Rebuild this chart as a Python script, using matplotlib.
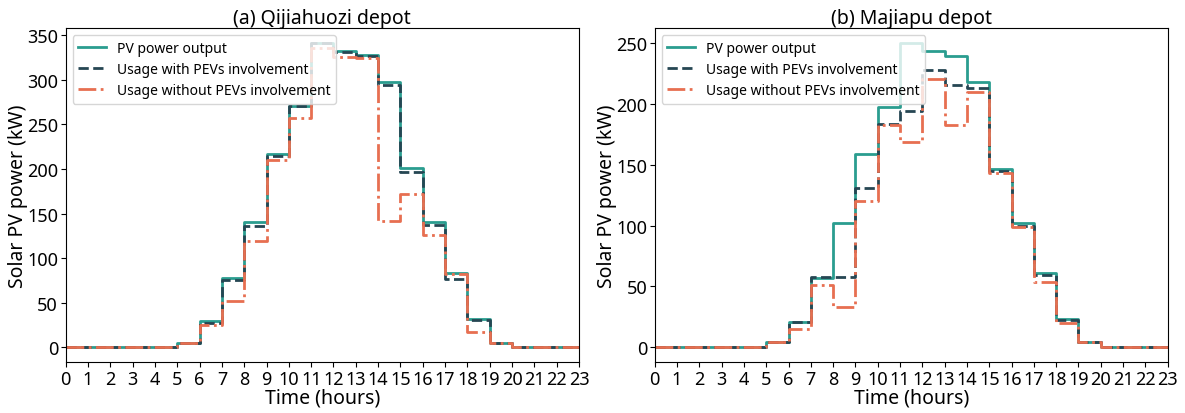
import matplotlib
matplotlib.use("Agg")
import matplotlib.pyplot as plt

plt.rcParams['font.family'] = ['Noto Sans', 'DejaVu Sans']

hours = list(range(24))

# Qijiahuozi depot (kW)
pv_a = [0, 0, 0, 0, 0, 5, 29, 78, 140, 217, 271, 341, 333, 328, 298, 201, 140, 83, 32, 5, 0, 0, 0, 0]
with_a = [0, 0, 0, 0, 0, 5, 27, 75, 136, 215, 271, 341, 331, 327, 294, 197, 137, 77, 30, 5, 0, 0, 0, 0]
without_a = [0, 0, 0, 0, 0, 5, 25, 52, 119, 210, 257, 336, 326, 325, 142, 172, 126, 82, 17, 5, 0, 0, 0, 0]

# Majiapu depot (kW)
pv_b = [0, 0, 0, 0, 0, 4, 21, 57, 102, 159, 198, 250, 244, 240, 218, 147, 102, 61, 23, 4, 0, 0, 0, 0]
with_b = [0, 0, 0, 0, 0, 4, 21, 58, 58, 131, 184, 194, 228, 216, 213, 145, 100, 59, 22, 4, 0, 0, 0, 0]
without_b = [0, 0, 0, 0, 0, 4, 15, 51, 33, 120, 183, 169, 221, 183, 210, 143, 99, 54, 20, 4, 0, 0, 0, 0]

titles = ['(a) Qijiahuozi depot', '(b) Majiapu depot']
labels = ['PV power output', 'Usage with PEVs involvement', 'Usage without PEVs involvement']
colors = ['#2a9d8f', '#264653', '#e76f51']
styles = ['-', '--', '-.']

fig = plt.figure(figsize=(11.85, 4.14), dpi=100)
ax1 = fig.add_axes([0.0554, 0.1225, 0.4332, 0.8068])
ax2 = fig.add_axes([0.5525, 0.1225, 0.4329, 0.8068])

for ax, series, title in [(ax1, [pv_a, with_a, without_a], titles[0]),
                          (ax2, [pv_b, with_b, without_b], titles[1])]:
    for y, lab, c, ls in zip(series, labels, colors, styles):
        ax.step(hours, y, where='post', color=c, linestyle=ls, linewidth=2, label=lab)
    ax.set_xlim(0, 23)
    ax.set_xticks(hours)
    ax.tick_params(labelsize=13, pad=2)
    ax.set_xlabel('Time (hours)', fontsize=14, labelpad=0)
    ax.set_ylabel('Solar PV power (kW)', fontsize=14, labelpad=-1)
    ax.set_title(title, fontsize=14, pad=2)
    ax.legend(loc='upper left', fontsize=10, labelspacing=0.45)

fig.savefig('out.png', dpi=100)
